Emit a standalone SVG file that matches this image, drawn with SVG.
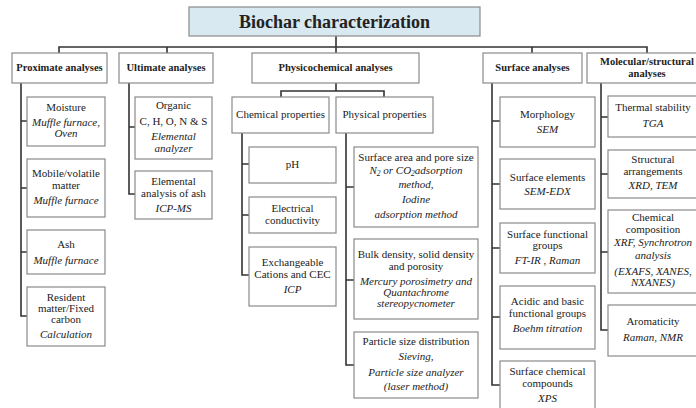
<svg xmlns="http://www.w3.org/2000/svg" width="696" height="408" viewBox="0 0 696 408">
<style>
text{font-family:"Liberation Serif","Times New Roman",serif;fill:#222;text-anchor:middle;font-size:11px}
.t{font-size:18px;font-weight:bold}
.h{font-size:10.5px;font-weight:bold}
.i{font-style:italic}
.box{fill:#fff;stroke:#8a8a8a;stroke-width:1.2}
.tb{fill:#d8e9f1;stroke:#8a8a8a;stroke-width:1.2}
.c{fill:none;stroke:#333;stroke-width:1.6}
</style>
<rect width="696" height="408" fill="#fff"/>
<g id="connectors">
<path class="c" d="M336,36V53M59,53V47H647V53M167,47V53M532,47V53"/>
<path class="c" d="M336,83V91M281,97V91H384V97"/>
<path class="c" d="M21,83V316H27M21,121H27M21,188H27M21,252H27"/>
<path class="c" d="M129,83V194H135M129,127H135"/>
<path class="c" d="M242,133V275H249M242,164H249M242,215H249"/>
<path class="c" d="M346,133V365H354M346,187H354M346,280H354"/>
<path class="c" d="M492,83V385H500M492,121H500M492,184H500M492,248H500M492,317H500"/>
<path class="c" d="M601,83V330H608M601,117H608M601,174H608M601,252H608"/>
</g>
<g id="title"><rect class="tb" x="189" y="7" width="291" height="29"/><text class="t" x="334.5" y="28">Biochar characterization</text></g>
<g id="proximate"><rect class="box" x="12" y="53" width="95" height="30"/><text class="h" x="59.5" y="71">Proximate analyses</text></g>
<g id="ultimate"><rect class="box" x="119" y="53" width="94" height="30"/><text class="h" x="166" y="71">Ultimate analyses</text></g>
<g id="physicochemical"><rect class="box" x="252" y="53" width="167" height="30"/><text class="h" x="335.5" y="71">Physicochemical analyses</text></g>
<g id="surface"><rect class="box" x="483" y="53" width="99" height="30"/><text class="h" x="532.5" y="71">Surface analyses</text></g>
<g id="molecular"><rect class="box" x="587" y="53" width="120" height="30"/><text class="h" x="647" y="65">Molecular/structural</text><text class="h" x="647" y="77">analyses</text></g>

<g id="moisture"><rect class="box" x="27" y="97" width="78" height="49"/><text x="66" y="111">Moisture</text><text class="i" x="66" y="126">Muffle furnace,</text><text class="i" x="66" y="137">Oven</text></g>
<g id="volatile"><rect class="box" x="27" y="159" width="78" height="58"/><text x="66" y="177">Mobile/volatile</text><text x="66" y="189">matter</text><text class="i" x="66" y="204">Muffle furnace</text></g>
<g id="ash"><rect class="box" x="27" y="230" width="78" height="44"/><text x="66" y="248">Ash</text><text class="i" x="66" y="264">Muffle furnace</text></g>
<g id="resident"><rect class="box" x="27" y="287" width="78" height="59"/><text x="66" y="301">Resident</text><text x="66" y="312">matter/Fixed</text><text x="66" y="323">carbon</text><text class="i" x="66" y="338">Calculation</text></g>

<g id="organic"><rect class="box" x="135" y="97" width="77" height="62"/><text x="173.5" y="109">Organic</text><text x="173.5" y="125">C, H, O, N &amp; S</text><text class="i" x="173.5" y="140">Elemental</text><text class="i" x="173.5" y="152">analyzer</text></g>
<g id="ash-elemental"><rect class="box" x="135" y="171" width="77" height="48"/><text x="173.5" y="185">Elemental</text><text x="173.5" y="197">analysis of ash</text><text class="i" x="173.5" y="212">ICP-MS</text></g>

<g id="chemical"><rect class="box" x="232" y="97" width="97" height="36"/><text x="280.5" y="118">Chemical properties</text></g>
<g id="physical"><rect class="box" x="336" y="97" width="97" height="36"/><text x="384.5" y="118">Physical properties</text></g>

<g id="ph"><rect class="box" x="249" y="147" width="87" height="36"/><text x="292.5" y="168">pH</text></g>
<g id="conductivity"><rect class="box" x="249" y="197" width="87" height="36"/><text x="292.5" y="212">Electrical</text><text x="292.5" y="224">conductivity</text></g>
<g id="cec"><rect class="box" x="249" y="247" width="87" height="59"/><text x="292.5" y="266">Exchangeable</text><text x="292.5" y="278">Cations and CEC</text><text class="i" x="292.5" y="293">ICP</text></g>

<g id="surface-area"><rect class="box" x="354" y="147" width="124" height="80"/><text x="416" y="161">Surface area and pore size</text><text class="i" x="416" y="174">N<tspan font-size="7.5" dy="2">2</tspan><tspan dy="-2"> or CO</tspan><tspan font-size="7.5" dy="2">2</tspan><tspan dy="-2">adsorption</tspan></text><text class="i" x="416" y="188">method,</text><text class="i" x="416" y="203">Iodine</text><text class="i" x="416" y="218">adsorption method</text></g>
<g id="bulk"><rect class="box" x="354" y="239" width="124" height="80"/><text x="416" y="258">Bulk density, solid density</text><text x="416" y="270">and porosity</text><text class="i" x="416" y="285">Mercury porosimetry and</text><text class="i" x="416" y="296">Quantachrome</text><text class="i" x="416" y="307">stereopycnometer</text></g>
<g id="particle"><rect class="box" x="354" y="332" width="124" height="66"/><text x="416" y="345">Particle size distribution</text><text class="i" x="416" y="360">Sieving,</text><text class="i" x="416" y="376">Particle size analyzer</text><text class="i" x="416" y="390">(laser method)</text></g>

<g id="morphology"><rect class="box" x="500" y="97" width="95" height="50"/><text x="547.5" y="118">Morphology</text><text class="i" x="547.5" y="133">SEM</text></g>
<g id="surface-elements"><rect class="box" x="500" y="159" width="95" height="50"/><text x="547.5" y="181">Surface elements</text><text class="i" x="547.5" y="195">SEM-EDX</text></g>
<g id="functional"><rect class="box" x="500" y="223" width="95" height="50"/><text x="547.5" y="238">Surface functional</text><text x="547.5" y="249">groups</text><text class="i" x="547.5" y="264">FT-IR , Raman</text></g>
<g id="acidic"><rect class="box" x="500" y="286" width="95" height="63"/><text x="547.5" y="305">Acidic and basic</text><text x="547.5" y="317">functional groups</text><text class="i" x="547.5" y="332">Boehm titration</text></g>
<g id="compounds"><rect class="box" x="500" y="361" width="95" height="52"/><text x="547.5" y="375">Surface chemical</text><text x="547.5" y="387">compounds</text><text class="i" x="547.5" y="402">XPS</text></g>

<g id="thermal"><rect class="box" x="608" y="96" width="90" height="41"/><text x="653" y="111">Thermal stability</text><text class="i" x="653" y="127">TGA</text></g>
<g id="structural"><rect class="box" x="608" y="150" width="90" height="48"/><text x="653" y="163">Structural</text><text x="653" y="175">arrangements</text><text class="i" x="653" y="189">XRD, TEM</text></g>
<g id="composition"><rect class="box" x="608" y="210" width="90" height="83"/><text x="653" y="221">Chemical</text><text x="653" y="233">composition</text><text class="i" x="653" y="246">XRF, Synchrotron</text><text class="i" x="653" y="259">analysis</text><text class="i" x="653" y="275">(EXAFS, XANES,</text><text class="i" x="653" y="286">NXANES)</text></g>
<g id="aromaticity"><rect class="box" x="608" y="305" width="90" height="51"/><text x="653" y="325">Aromaticity</text><text class="i" x="653" y="341">Raman, NMR</text></g>
</svg>
